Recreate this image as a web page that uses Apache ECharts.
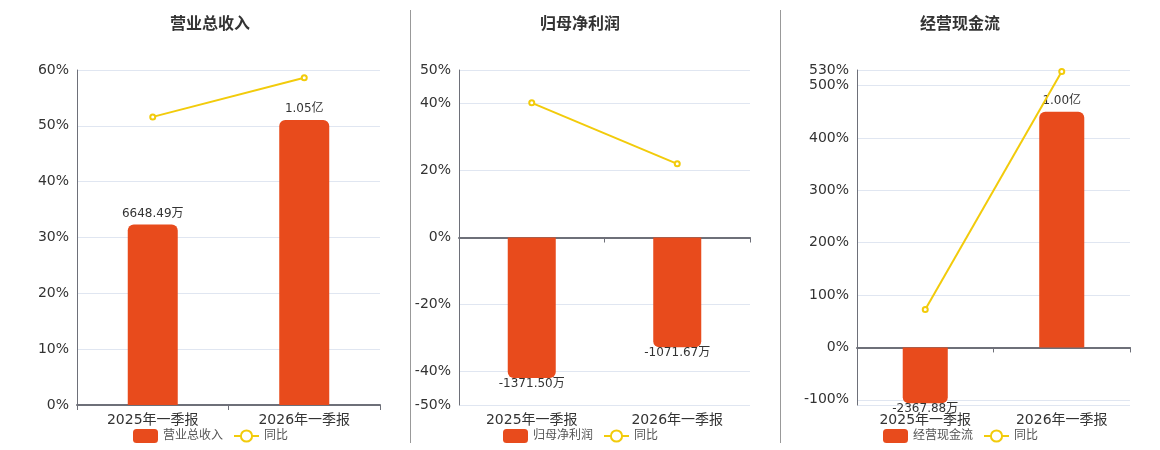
<!DOCTYPE html>
<html>
<head>
<meta charset="utf-8">
<script src="https://cdn.jsdelivr.net/npm/echarts@6/dist/echarts.min.js"></script>
<style>
  html, body { margin: 0; padding: 0; background: #fff; }
  #container { width: 1160px; height: 450px; }
</style>
</head>
<body>
<div id="container"></div>
<script>
// data (金额单位: 万元, 同比单位: %)
const categories = ['2025年一季报', '2026年一季报'];
const titles = ['营业总收入', '归母净利润', '经营现金流'];
const revenue = [6648.49, 10500];
const revenueYoy = [51.6, 58.6];
const netProfit = [-1371.50, -1071.67];
const netProfitYoy = [40.2, 22.0];
const cashFlow = [-2367.88, 10000];
const cashFlowYoy = [72.5, 527];
const barLabels = [
    ['6648.49万', '1.05亿'],
    ['-1371.50万', '-1071.67万'],
    ['-2367.88万', '1.00亿']
];

const barColor = '#E84B1C';
const lineColor = '#F2CB0B';
const font = 'DejaVu Sans, Noto Sans CJK SC, sans-serif';

const panels = [
    { name: titles[0], bars: revenue, yoy: revenueYoy, labels: barLabels[0],
      center: 210, grid: { left: 77, right: 780 },
      pct: { min: 0, max: 60 }, amt: { min: 0, max: 12342 } },
    { name: titles[1], bars: netProfit, yoy: netProfitYoy, labels: barLabels[1],
      center: 580, grid: { left: 459, right: 410 },
      pct: { min: -50, max: 50 }, amt: { min: -1635, max: 1635 } },
    { name: titles[2], bars: cashFlow, yoy: cashFlowYoy, labels: barLabels[2],
      center: 960, grid: { left: 857, right: 30 },
      pct: { min: -110, max: 530 }, amt: { min: -2443, max: 11772 } }
];

function drawChart() {
    const myChart = echarts.init(document.getElementById('container'), null, {
        renderer: 'canvas'
    });

    const title = [], grid = [], xAxis = [], yAxis = [], series = [], legend = [];

    panels.forEach(function (p, i) {
        title.push({
            text: p.name,
            left: p.center - 5,
            top: 12,
            textAlign: 'center',
            textStyle: { fontSize: 16, fontWeight: 'bold', color: '#333', fontFamily: font }
        });
        grid.push({ left: p.grid.left, right: p.grid.right, top: 70, bottom: 45 });

        // labels at the bottom
        xAxis.push({
            type: 'category',
            gridIndex: i,
            position: 'bottom',
            data: categories,
            axisLine: { show: false, onZero: false },
            axisTick: { show: false },
            axisLabel: { fontSize: 14, color: '#333', fontFamily: font, margin: 8 }
        });
        // line and ticks on zero
        xAxis.push({
            type: 'category',
            gridIndex: i,
            position: 'bottom',
            data: categories,
            axisLine: { show: true, onZero: true, onZeroAxisIndex: i * 2,
                lineStyle: { color: '#6E7079', width: 2 } },
            axisTick: { show: true, lineStyle: { color: '#6E7079' } },
            axisLabel: { show: false }
        });

        yAxis.push({
            type: 'value',
            gridIndex: i,
            min: p.pct.min,
            max: p.pct.max,
            axisLine: { show: true, lineStyle: { color: '#6E7079' } },
            axisTick: { show: false },
            axisLabel: {
                formatter: '{value}%', fontSize: 14, color: '#333', fontFamily: font,
                showMinLabel: i === 2 ? false : true, showMaxLabel: true
            },
            splitLine: { lineStyle: { color: '#E0E6F1' } }
        });
        yAxis.push({
            type: 'value',
            gridIndex: i,
            min: p.amt.min,
            max: p.amt.max,
            show: false,
            splitLine: { show: false }
        });

        series.push({
            name: p.name,
            type: 'bar',
            xAxisIndex: i * 2,
            yAxisIndex: i * 2 + 1,
            barWidth: '33%',
            itemStyle: { color: barColor },
            data: p.bars.map(function (v, k) {
                return {
                    value: v,
                    itemStyle: { borderRadius: v >= 0 ? [6, 6, 0, 0] : [0, 0, 6, 6] },
                    label: {
                        show: true,
                        position: v >= 0 ? 'top' : 'bottom',
                        distance: v >= 0 ? 5 : 0,
                        formatter: p.labels[k],
                        fontSize: 12,
                        color: '#333',
                        fontFamily: font
                    }
                };
            }),
            z: 2
        });
        series.push({
            name: '同比',
            type: 'line',
            xAxisIndex: i * 2,
            yAxisIndex: i * 2,
            data: p.yoy,
            symbol: 'emptyCircle',
            symbolSize: 5,
            lineStyle: { color: lineColor, width: 2 },
            itemStyle: { color: lineColor },
            z: 5
        });

        legend.push({
            data: [p.name, '同比'],
            left: p.center - 82,
            top: 424,
            itemWidth: 25,
            itemHeight: 14,
            itemGap: 10,
            textStyle: { fontSize: 12, color: '#555', fontFamily: font }
        });
    });

    const option = {
        animation: false,
        title: title,
        grid: grid,
        xAxis: xAxis,
        yAxis: yAxis,
        legend: legend,
        series: series,
        graphic: [
            { type: 'line', shape: { x1: 410.5, y1: 10, x2: 410.5, y2: 443 },
              style: { stroke: '#999', lineWidth: 1 } },
            { type: 'line', shape: { x1: 780.5, y1: 10, x2: 780.5, y2: 443 },
              style: { stroke: '#999', lineWidth: 1 } }
        ]
    };
    myChart.setOption(option);
}

drawChart();
</script>
</body>
</html>
